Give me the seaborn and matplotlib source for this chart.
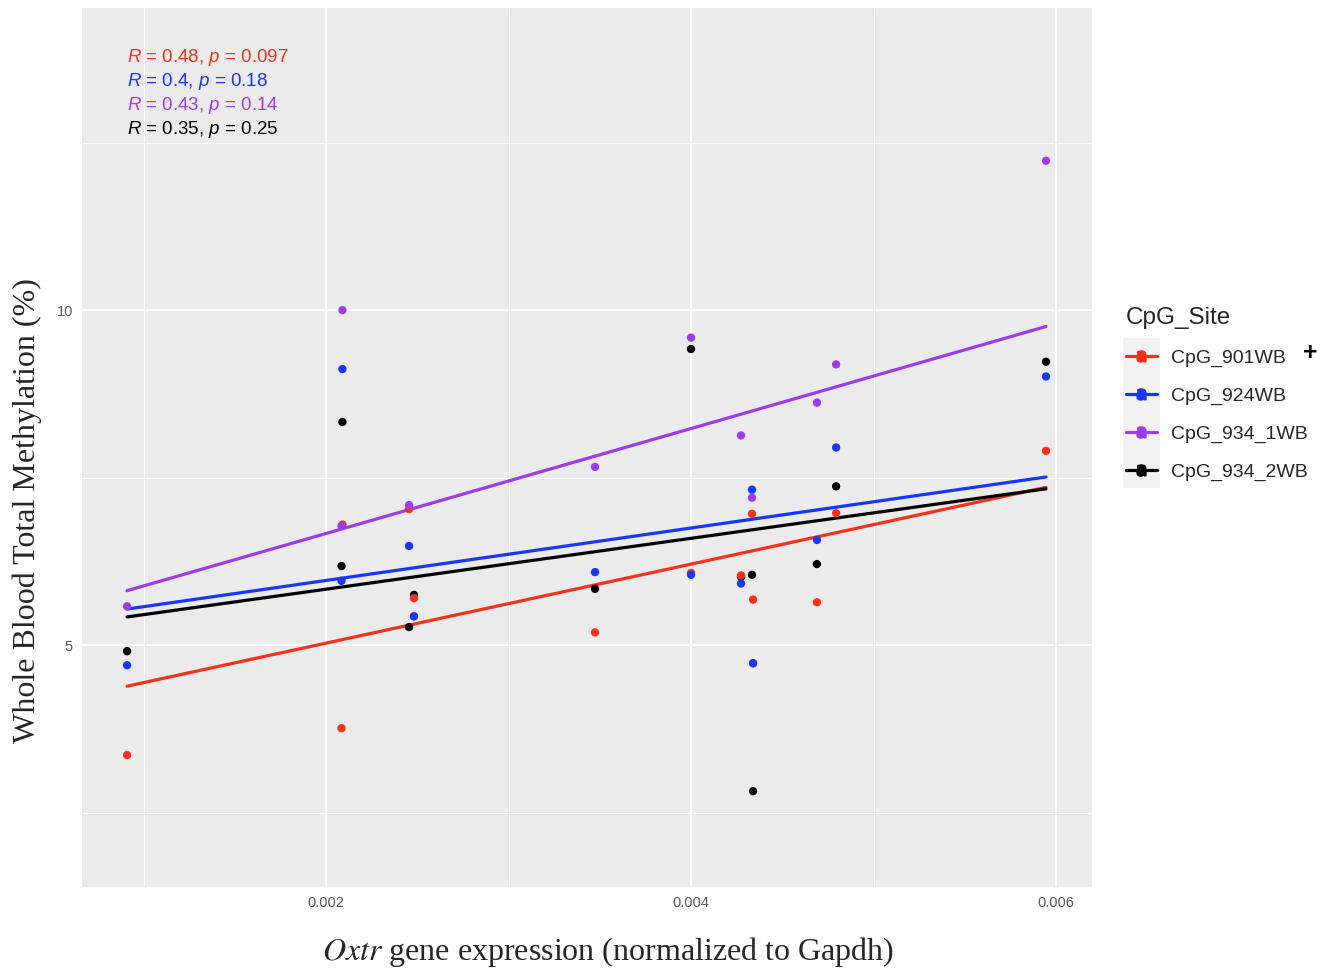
import numpy as np
import pandas as pd
import matplotlib
matplotlib.use("Agg")
import matplotlib.pyplot as plt
import seaborn as sns
from matplotlib.lines import Line2D
from matplotlib.patches import Rectangle

# ---------------- data ----------------
oxtr = [0.00091, 0.00209, 0.002085, 0.002455, 0.002482, 0.003474, 0.004,
        0.004274, 0.004334, 0.00434, 0.00469, 0.004795, 0.005945]
cpg_901 = [3.36, 6.80, 3.76, 7.03, 5.70, 5.19, 6.08, 6.04, 6.96, 5.68, 5.64, 6.97, 7.90]
cpg_924 = [4.70, 9.12, 5.96, 6.48, 5.43, 6.09, 6.05, 5.92, 7.32, 4.73, 6.57, 7.95, 9.01]
cpg_934_1 = [5.58, 10.00, 6.78, 7.09, 5.43, 7.66, 9.59, 8.13, 7.20, 4.73, 8.62, 9.19, 12.23]
cpg_934_2 = [4.91, 8.33, 6.18, 5.27, 5.75, 5.84, 9.42, 6.02, 6.05, 2.82, 6.21, 7.37, 9.23]

sites = ["CpG_901WB", "CpG_924WB", "CpG_934_1WB", "CpG_934_2WB"]
colors = ["#F5301C", "#1736F7", "#9B3DE8", "#000000"]
r_text = ["0.48", "0.4", "0.43", "0.35"]
p_text = ["0.097", "0.18", "0.14", "0.25"]
x_ticks = [0.002, 0.004, 0.006]
x_ticklabels = ["0.002", "0.004", "0.006"]
y_ticks = [5, 10]

series = dict(zip(sites, [cpg_901, cpg_924, cpg_934_1, cpg_934_2]))
draw_order = ["CpG_934_2WB", "CpG_901WB", "CpG_934_1WB", "CpG_924WB"]
df = pd.concat([pd.DataFrame({"oxtr": oxtr, "meth": series[name], "CpG_Site": name})
                for name in draw_order], ignore_index=True)

# ---------------- style ----------------
sns.set_theme(style="darkgrid")
plt.rcParams["font.family"] = ["Liberation Sans", "DejaVu Sans"]
plt.rcParams["mathtext.fontset"] = "custom"
plt.rcParams["mathtext.it"] = "Liberation Sans:italic"
plt.rcParams["mathtext.rm"] = "Liberation Sans"

fig = plt.figure(figsize=(13.37, 9.72), dpi=100)
fig.patch.set_facecolor("white")
ax = fig.add_axes([82/1337, 1-887/972, (1092-82)/1337, (887-8)/972])
ax.set_facecolor("#EBEBEB")

palette = dict(zip(sites, colors))
for name in sites:
    sub = df[df["CpG_Site"] == name]
    sns.regplot(data=sub, x="oxtr", y="meth", ax=ax, scatter=False, ci=None,
                color=palette[name], line_kws={"linewidth": 2.3, "zorder": 2})
sns.scatterplot(data=df, x="oxtr", y="meth", hue="CpG_Site", palette=palette,
                ax=ax, s=36, linewidth=0, legend=False, zorder=3)

ax.set_xlim(0.000663, 0.006197)
ax.set_ylim(1.39, 14.51)
ax.set_xticks(x_ticks)
ax.set_xticklabels(x_ticklabels)
ax.set_yticks(y_ticks)
ax.set_xticks([0.001, 0.003, 0.005], minor=True)
ax.set_yticks([2.5, 7.5, 12.5], minor=True)
ax.grid(which="major", color="white", linewidth=1.4)
ax.grid(which="minor", color="white", linewidth=0.7)
for sp in ax.spines.values():
    sp.set_visible(False)
ax.tick_params(axis="both", which="major", length=3.5, width=0.9, color="#333333",
               labelsize=10.5, labelcolor="#5A5A5A", pad=3)
ax.tick_params(axis="both", which="minor", length=0)

ax.set_xlabel("")
ax.set_ylabel("")
fig.text(608/1337, 1-952/972,
         r"$\mathit{Oxtr}$ gene expression (normalized to Gapdh)",
         ha="center", va="center", fontsize=23, family="Liberation Serif",
         math_fontfamily="stix")
fig.text(27/1337, 1-511/972, "Whole Blood Total Methylation (%)",
         ha="center", va="center", rotation=90, fontsize=23, family="Liberation Serif")

# correlation annotations
ys = [58, 82, 106, 130]
for r, p, c, yp in zip(r_text, p_text, colors, ys):
    ax.text(127/1337, 1-yp/972, rf"$R$ = {r}, $p$ = {p}", transform=fig.transFigure,
            color=c, fontsize=13.5, ha="left", va="center")

# legend
handles = []
for c in colors:
    h1 = Line2D([], [], color=c, linewidth=2.3, marker="o", markersize=6)
    h2 = Line2D([], [], color=c, linestyle="none", marker=r"$\mathsf{a}$",
                markersize=8)
    handles.append((h1, h2))
fig.add_artist(Rectangle((1123/1337, 1-488/972), 37/1337, 150/972,
                         transform=fig.transFigure, facecolor="#F2F2F2",
                         edgecolor="none", zorder=0))
leg = fig.legend(handles, sites, loc="upper left",
                 bbox_to_anchor=(1118/1337, 1-299/972), frameon=False,
                 title="CpG_Site", title_fontsize=17.5, fontsize=14,
                 handlelength=1.6, handletextpad=0.72, labelspacing=1.04,
                 borderaxespad=0)
leg._legend_box.align = "left"
fig.text(1310/1337, 1-353/972, "+", fontsize=18, fontweight="bold",
         ha="center", va="center", color="black")

fig.savefig("out.png", dpi=100, facecolor="white")
